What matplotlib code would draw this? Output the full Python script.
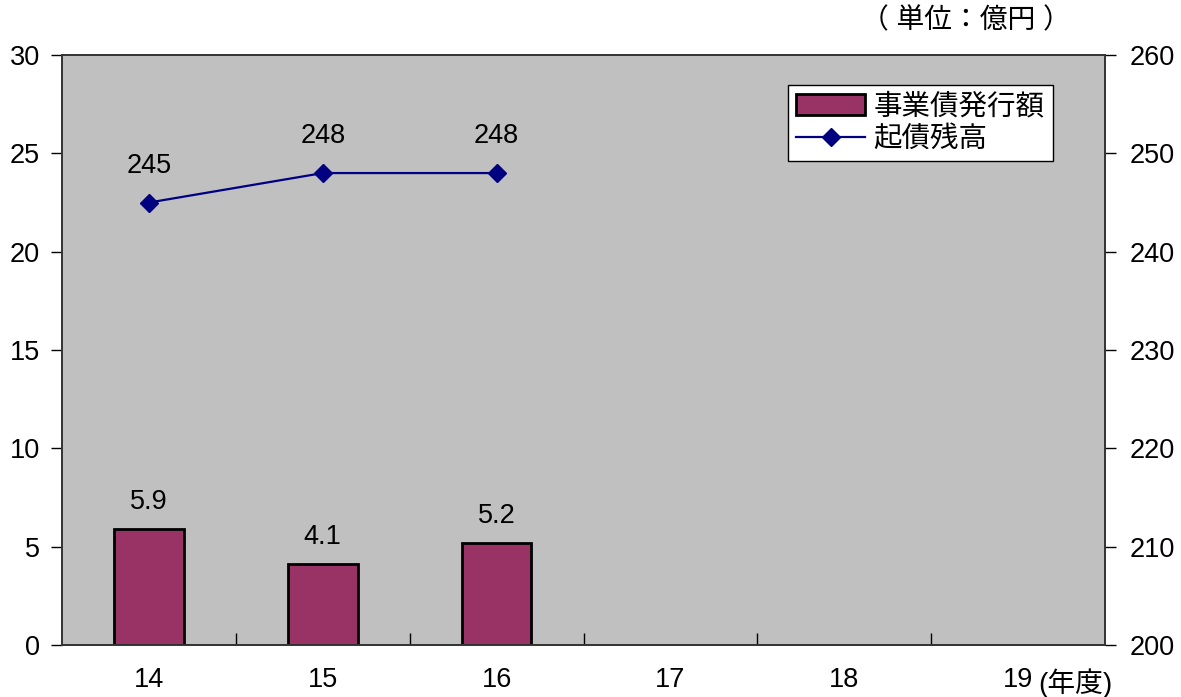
import numpy as np
import matplotlib.pyplot as plt

plt.rcParams['font.family'] = ['Liberation Sans', 'Noto Sans CJK JP']

years = ['14', '15', '16', '17', '18', '19']
issue = [5.9, 4.1, 5.2]          # 事業債発行額
balance = [245, 248, 248]        # 起債残高

x = np.arange(len(years))
fs = 19.5

fig = plt.figure(figsize=(11.81, 6.97), dpi=100)
ax = fig.add_axes([0.0525, 0.0746, 0.8832, 0.8464])
ax.set_facecolor('#c0c0c0')

bars = ax.bar(x[:len(issue)], issue, width=0.4, color='#993366',
              edgecolor='black', linewidth=2, label='事業債発行額', zorder=2)
for xi, v in zip(x, issue):
    ax.annotate(f'{v:.1f}', (xi, v), xytext=(0, 10), textcoords='offset points',
                ha='center', va='bottom', fontsize=fs)

ax.set_xlim(-0.5, len(years) - 0.5)
ax.set_ylim(0, 30)
ax.set_yticks(np.arange(0, 31, 5))
ax.set_xticks(x)
ax.set_xticklabels(years)
ax.set_xticks(x[:-1] + 0.5, minor=True)
ax.tick_params(axis='x', which='major', length=0, pad=16, labelsize=fs)
ax.tick_params(axis='x', which='minor', direction='in', length=9, width=1)
ax.tick_params(axis='y', direction='out', length=8, width=1, labelsize=fs, pad=8)

ax2 = ax.twinx()
line, = ax2.plot(x[:len(balance)], balance, color='#000080', lw=1.6,
                 marker='D', markersize=9, label='起債残高', zorder=3)
for xi, v in zip(x, balance):
    ax2.annotate(f'{v}', (xi, v), xytext=(0, 17), textcoords='offset points',
                 ha='center', va='bottom', fontsize=fs)
ax2.set_ylim(200, 260)
ax2.set_yticks(np.arange(200, 261, 10))
ax2.tick_params(axis='y', direction='out', length=8, width=1, labelsize=fs, pad=10)

for a in (ax, ax2):
    for s in a.spines.values():
        s.set_linewidth(1.2)
        s.set_color('#333333')

leg = ax2.legend([bars, line], ['事業債発行額', '起債残高'], loc='upper right',
                 bbox_to_anchor=(0.950, 0.949), fontsize=20.5, frameon=True,
                 fancybox=False, edgecolor='black', framealpha=1,
                 handlelength=2.4, handleheight=0.75, handletextpad=0.3,
                 borderpad=0.3, labelspacing=0.2, borderaxespad=0)
leg.get_frame().set_linewidth(1)

fig.text(0.818, 0.970, '（ 単位：億円 ）', ha='center', va='center', fontsize=20)
fig.text(0.879, 0.020, '(年度)', ha='left', va='center', fontsize=20)

fig.savefig('out.png', dpi=100)
